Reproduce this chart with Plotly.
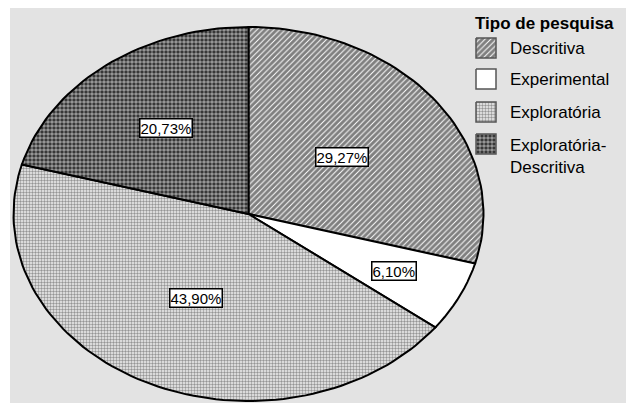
import numpy as np
import plotly.graph_objects as go

# ---- data ----
categories = ["Descritiva", "Experimental", "Exploratória", "Exploratória-Descritiva"]
percent = [29.27, 6.10, 43.90, 20.73]
labels = ["29,27%", "6,10%", "43,90%", "20,73%"]
legend_title = "Tipo de pesquisa"
legend_text = ["Descritiva", "Experimental", "Exploratória", "Exploratória-<br>Descritiva"]

# ---- styles / layout ----
W, H = 626, 403
CX, CY, A, B = 248.5, 214.0, 235.0, 187.0
patterns = [
    dict(shape="/", size=4, solidity=0.75, fgcolor="#000000", bgcolor="#ffffff"),
    None,
    dict(shape=".", size=3, solidity=0.5, fgcolor="#3a3a3a", bgcolor="#f0f0f0"),
    dict(shape=".", size=4, solidity=0.65, fgcolor="#ffffff", bgcolor="#2a2a2a"),
]
label_r = [0.5, 0.69, 0.5, 0.58]
FONT = "Liberation Sans, Arial, sans-serif"

fig = go.Figure()

total = sum(percent)
start = 0.0
for i, (cat, p) in enumerate(zip(categories, percent)):
    t0 = start / total * 2 * np.pi
    t1 = (start + p) / total * 2 * np.pi
    t = np.linspace(t0, t1, max(8, int(200 * p / total)))
    xs = np.concatenate([[CX], CX + A * np.sin(t), [CX]])
    ys = np.concatenate([[CY], CY - B * np.cos(t), [CY]])
    kw = dict(fillcolor="#ffffff")
    if patterns[i] is not None:
        kw["fillpattern"] = patterns[i]
    fig.add_trace(go.Scatter(x=xs, y=ys, mode="lines", fill="toself",
                             line=dict(color="black", width=2),
                             name=cat, showlegend=False, hoverinfo="name", **kw))
    tm = (t0 + t1) / 2
    fig.add_annotation(x=CX + label_r[i] * A * np.sin(tm), y=CY - label_r[i] * B * np.cos(tm),
                       xref="x", yref="y", text=labels[i], showarrow=False,
                       font=dict(family=FONT, size=15, color="black"),
                       bgcolor="white", bordercolor="black", borderwidth=1.5, borderpad=0)
    start += p

# ---- custom legend ----
LX0, SW = 476, 20
row_c = [48, 79, 112, 144]
for i, cat in enumerate(categories):
    y0 = row_c[i] - SW / 2
    kw = dict(fillcolor="#ffffff")
    if patterns[i] is not None:
        kw["fillpattern"] = patterns[i]
    fig.add_trace(go.Scatter(x=[LX0, LX0 + SW, LX0 + SW, LX0, LX0],
                             y=[y0, y0, y0 + SW, y0 + SW, y0],
                             mode="lines", fill="toself", line=dict(color="#555555", width=1.5),
                             showlegend=False, hoverinfo="skip", **kw))
    fig.add_annotation(x=508, y=y0 if i == 3 else row_c[i], xref="x", yref="y",
                       text=legend_text[i], showarrow=False, xanchor="left",
                       yanchor="top" if i == 3 else "middle", align="left",
                       font=dict(family=FONT, size=17, color="black"))
fig.add_annotation(x=473, y=23, xref="x", yref="y", text="<b>" + legend_title + "</b>",
                   showarrow=False, xanchor="left", yanchor="middle",
                   font=dict(family=FONT, size=17, color="black"))

fig.update_layout(
    width=W, height=H, margin=dict(l=10, r=0, t=8, b=0),
    paper_bgcolor="white", plot_bgcolor="#e3e3e3",
    xaxis=dict(range=[10, W], visible=False, fixedrange=True),
    yaxis=dict(range=[H, 8], visible=False, fixedrange=True),
    showlegend=False,
)
fig.write_html("out.html")
